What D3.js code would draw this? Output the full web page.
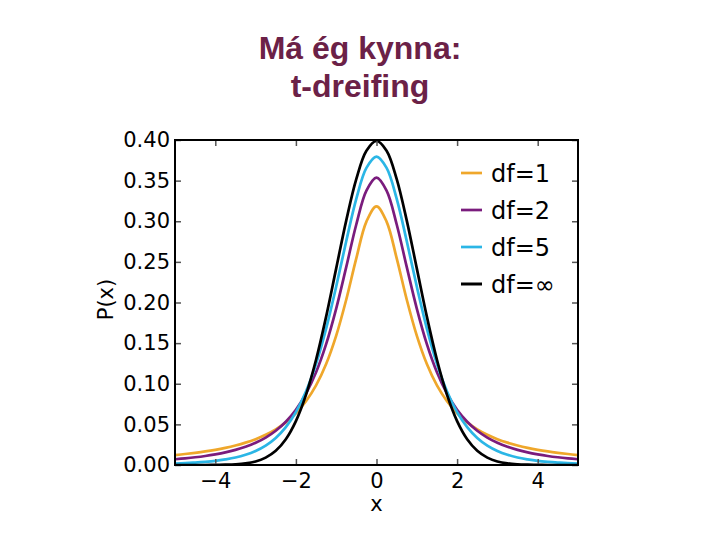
<!DOCTYPE html>
<html>
<head>
<meta charset="utf-8">
<script src="https://cdn.jsdelivr.net/npm/d3@7"></script>
<style>
html,body{margin:0;padding:0;background:#fff;}
svg{display:block;}
</style>
</head>
<body>
<svg id="chart" width="720" height="540"></svg>
<script>
// ---- data ----
const titleLines = ["Má ég kynna:", "t-dreifing"];
const xValues = [-5,-4.75,-4.5,-4.25,-4,-3.75,-3.5,-3.25,-3,-2.75,-2.5,-2.25,-2,-1.75,-1.5,-1.25,-1,-0.75,-0.5,-0.25,0,
                 0.25,0.5,0.75,1,1.25,1.5,1.75,2,2.25,2.5,2.75,3,3.25,3.5,3.75,4,4.25,4.5,4.75,5];
const df1 = [0.0122,0.0135,0.0150,0.0167,0.0187,0.0211,0.0240,0.0275,0.0318,0.0372,0.0439,0.0525,0.0637,0.0784,0.0979,0.1242,0.1592,0.2037,0.2546,0.2996,0.3183,
             0.2996,0.2546,0.2037,0.1592,0.1242,0.0979,0.0784,0.0637,0.0525,0.0439,0.0372,0.0318,0.0275,0.0240,0.0211,0.0187,0.0167,0.0150,0.0135,0.0122];
const df2 = [0.0071,0.0082,0.0095,0.0111,0.0131,0.0155,0.0186,0.0225,0.0274,0.0338,0.0422,0.0533,0.0680,0.0878,0.1141,0.1487,0.1925,0.2438,0.2963,0.3376,0.3536,
             0.3376,0.2963,0.2438,0.1925,0.1487,0.1141,0.0878,0.0680,0.0533,0.0422,0.0338,0.0274,0.0225,0.0186,0.0155,0.0131,0.0111,0.0095,0.0082,0.0071];
const df5 = [0.0018,0.0023,0.0030,0.0039,0.0051,0.0069,0.0092,0.0126,0.0173,0.0239,0.0333,0.0466,0.0651,0.0905,0.1245,0.1679,0.2197,0.2757,0.3279,0.3657,0.3796,
             0.3657,0.3279,0.2757,0.2197,0.1679,0.1245,0.0905,0.0651,0.0466,0.0333,0.0239,0.0173,0.0126,0.0092,0.0069,0.0051,0.0039,0.0030,0.0023,0.0018];
const dfInf = [0.0000,0.0000,0.0000,0.0000,0.0001,0.0004,0.0009,0.0020,0.0044,0.0091,0.0175,0.0317,0.0540,0.0863,0.1295,0.1826,0.2420,0.3011,0.3521,0.3867,0.3989,
               0.3867,0.3521,0.3011,0.2420,0.1826,0.1295,0.0863,0.0540,0.0317,0.0175,0.0091,0.0044,0.0020,0.0009,0.0004,0.0001,0.0000,0.0000,0.0000,0.0000];
const seriesNames = ["df=1", "df=2", "df=5", "df=\u221E"];
const seriesColors = ["#EFA72B", "#7A1C7D", "#2BB6E6", "#000000"];
const xTicks = [-4, -2, 0, 2, 4];
const yTicks = [0, 0.05, 0.10, 0.15, 0.20, 0.25, 0.30, 0.35, 0.40];
const xLabel = "x";
const yLabel = "P(x)";

// ---- drawing ----
(function () {
const svg = d3.select("#chart");
const pL = 175, pR = 578, pT = 140, pB = 465;
const x = d3.scaleLinear().domain([-5, 5]).range([pL, pR]);
const y = d3.scaleLinear().domain([0, 0.4]).range([pB, pT]);

// title
const title = svg.append("text")
  .attr("x", 360).attr("y", 59)
  .attr("text-anchor", "middle")
  .attr("font-family", "Liberation Sans, Arial, sans-serif")
  .attr("font-weight", "bold")
  .attr("font-size", 32)
  .attr("fill", "#6B2147");
titleLines.forEach((t, i) => {
  title.append("tspan").attr("x", 360).attr("dy", i === 0 ? 0 : 38).text(t);
});

const font = "DejaVu Sans, sans-serif";
const fs = 21;

// clip
svg.append("clipPath").attr("id", "clip")
  .append("rect").attr("x", pL).attr("y", pT - 5).attr("width", pR - pL).attr("height", pB - pT + 5);

// curves
const seriesData = [df1, df2, df5, dfInf];
const line = d3.line()
  .x((d, i) => x(xValues[i]))
  .y(d => y(d))
  .curve(d3.curveCatmullRom.alpha(0.5));
const g = svg.append("g").attr("clip-path", "url(#clip)");
seriesData.forEach((s, k) => {
  g.append("path").datum(s)
    .attr("d", line)
    .attr("fill", "none")
    .attr("stroke", seriesColors[k])
    .attr("stroke-width", 2.7)
    .attr("stroke-linejoin", "round");
});

// axes (inward mirrored ticks)
const tickLen = 6;
const axB = d3.axisBottom(x).tickValues(xTicks).tickSize(-tickLen).tickPadding(8)
  .tickFormat(d => d3.format("d")(d).replace("-", "\u2212"));
const axT = d3.axisTop(x).tickValues(xTicks).tickSize(-tickLen).tickFormat("");
const axL = d3.axisLeft(y).tickValues(yTicks).tickSize(-tickLen).tickPadding(5).tickFormat(d3.format(".2f"));
const axR = d3.axisRight(y).tickValues(yTicks).tickSize(-tickLen).tickFormat("");

function style(sel) {
  sel.select(".domain").remove();
  sel.selectAll(".tick line").attr("stroke", "#555").attr("stroke-width", 1.5);
  sel.selectAll(".tick text").attr("fill", "#000").attr("font-family", font).attr("font-size", fs);
}
svg.append("g").attr("transform", `translate(0,${pB})`).call(axB).call(style);
svg.append("g").attr("transform", `translate(0,${pT})`).call(axT).call(style);
svg.append("g").attr("transform", `translate(${pL},0)`).call(axL).call(style);
svg.append("g").attr("transform", `translate(${pR},0)`).call(axR).call(style);

// frame
svg.append("rect").attr("x", pL).attr("y", pT)
  .attr("width", pR - pL).attr("height", pB - pT)
  .attr("fill", "none").attr("stroke", "#000").attr("stroke-width", 2);

// axis labels
svg.append("text").attr("x", (pL + pR) / 2).attr("y", 511)
  .attr("text-anchor", "middle").attr("font-family", font).attr("font-size", fs).text(xLabel);
svg.append("text").attr("transform", `translate(113,${(pT + pB) / 2 - 3}) rotate(-90)`)
  .attr("text-anchor", "middle").attr("font-family", font).attr("font-size", fs).text(yLabel);

// legend
const legY = d3.scalePoint().domain(seriesNames).range([173, 284]);
const leg = svg.append("g");
seriesNames.forEach((n, k) => {
  leg.append("line").attr("x1", 461).attr("x2", 482)
    .attr("y1", legY(n)).attr("y2", legY(n))
    .attr("stroke", seriesColors[k]).attr("stroke-width", k === 3 ? 3 : 2.7);
  leg.append("text").attr("x", 491).attr("y", legY(n) + 9)
    .attr("font-family", font).attr("font-size", 24).text(n);
});
})();
</script>
</body>
</html>
